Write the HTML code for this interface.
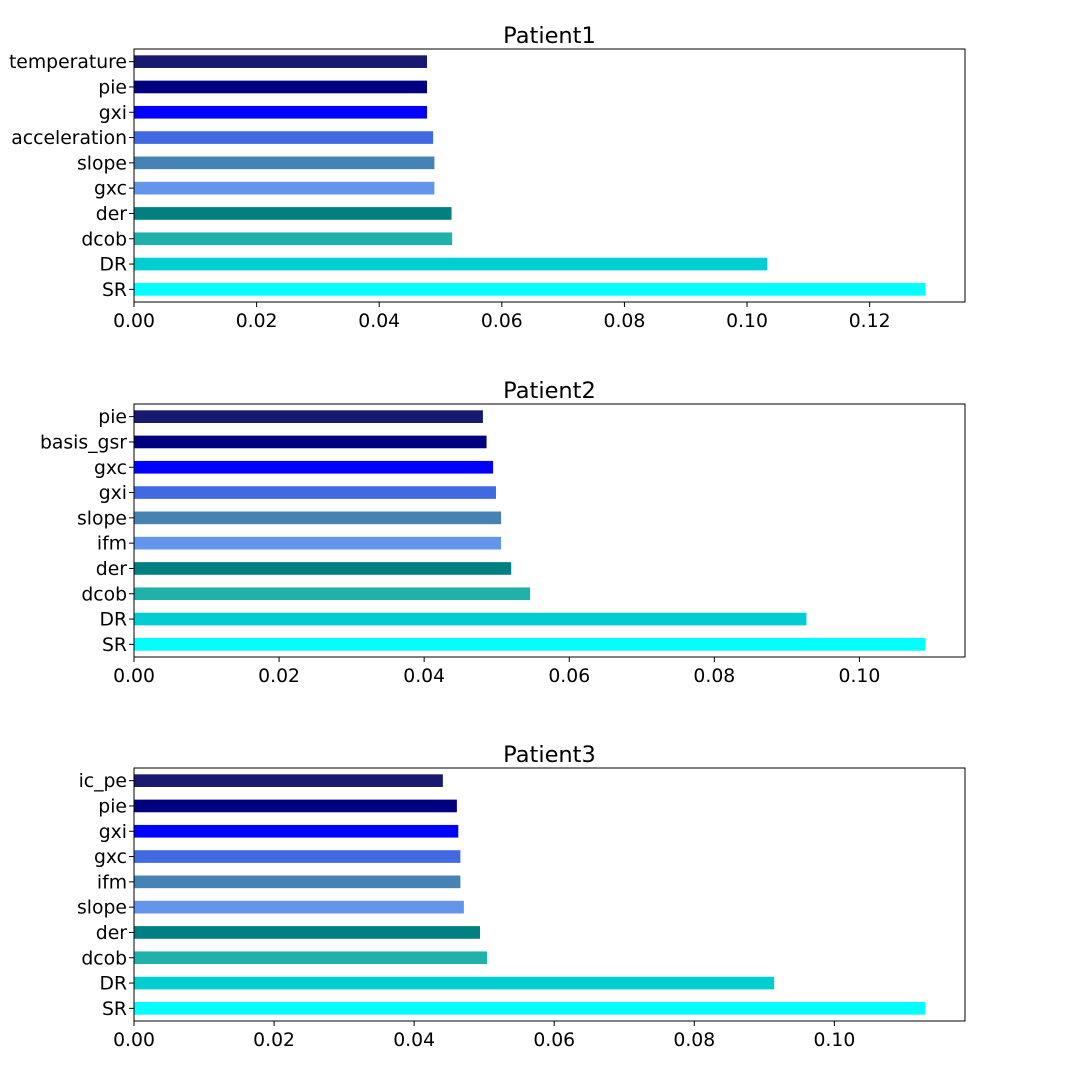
<!DOCTYPE html>
<html><head><meta charset="utf-8"><style>
body{margin:0;background:#fff;width:1072px;height:1072px;overflow:hidden}
svg text{font-family:"DejaVu Sans","Liberation Sans",sans-serif;fill:#000}
</style></head><body>
<svg id="chart" width="1072" height="1072" xmlns="http://www.w3.org/2000/svg"></svg>
<script>
const titles = ["Patient1","Patient2","Patient3"];
const cats1 = ["SR","DR","dcob","der","gxc","slope","acceleration","gxi","pie","temperature"];
const vals1 = [0.1291,0.1033,0.0519,0.0518,0.0490,0.0490,0.0488,0.0478,0.0478,0.0478];
const cats2 = ["SR","DR","dcob","der","ifm","slope","gxi","gxc","basis_gsr","pie"];
const vals2 = [0.1091,0.0927,0.0546,0.0520,0.0506,0.0506,0.0499,0.0495,0.0486,0.0481];
const cats3 = ["SR","DR","dcob","der","slope","ifm","gxc","gxi","pie","ic_pe"];
const vals3 = [0.1130,0.0914,0.0504,0.0494,0.0471,0.0466,0.0466,0.0463,0.0461,0.0441];
const ticks1 = [0,0.02,0.04,0.06,0.08,0.10,0.12];
const ticks2 = [0,0.02,0.04,0.06,0.08,0.10];
const ticks3 = [0,0.02,0.04,0.06,0.08,0.10];
const colors = ["#00FFFF","#00CED1","#20B2AA","#008080","#6495ED","#4682B4","#4169E1","#0000FF","#000080","#191970"];
const panels = [[cats1,vals1,ticks1,49],[cats2,vals2,ticks2,404],[cats3,vals3,ticks3,768]];
const svg = document.getElementById('chart');
const NS = "http://www.w3.org/2000/svg";
function mk(tag, attrs, parent){const e=document.createElementNS(NS,tag);for(const k in attrs)e.setAttribute(k,attrs[k]);parent.appendChild(e);return e;}
const L=134,R=965,H=253;
panels.forEach((p,pi)=>{
  const [cats,vals,ticks,top]=p;
  const g=mk('g',{},svg);
  
  
  const xmax=Math.max(...vals)*1.05;
  const x=v=>L+(R-L)*v/xmax;
  const n=cats.length;
  const unit=H/n;
  const y=i=>top+H-(i+0.5)*unit;
  const t=mk('text',{x:(L+R)/2,y:top-6,'text-anchor':'middle','font-size':'22.5'},g);
  t.textContent=titles[pi];
  
  
  cats.forEach((c,i)=>{
    const b=mk('rect',{x:L,y:y(i)-unit/4,width:x(vals[i])-L,height:unit/2,fill:colors[i]},g);
    
    
    mk('line',{x1:L-5,x2:L,y1:y(i),y2:y(i),stroke:'#000','stroke-width':1},g);
    const lt=mk('text',{x:L-7,y:y(i)+6.5,'text-anchor':'end','font-size':'18.8'},g);
    lt.textContent=c;
    
    
  });
  ticks.forEach(tv=>{
    mk('line',{x1:x(tv),x2:x(tv),y1:top+H,y2:top+H+5,stroke:'#000','stroke-width':1},g);
    const tt=mk('text',{x:x(tv),y:top+H+25,'text-anchor':'middle','font-size':'18.8'},g);
    tt.textContent=tv.toFixed(2);
    
    
  });
  const fr=mk('rect',{x:L,y:top,width:R-L,height:H,fill:'none',stroke:'#000','stroke-width':1},g);
  
  
});
</script>
</body></html>
